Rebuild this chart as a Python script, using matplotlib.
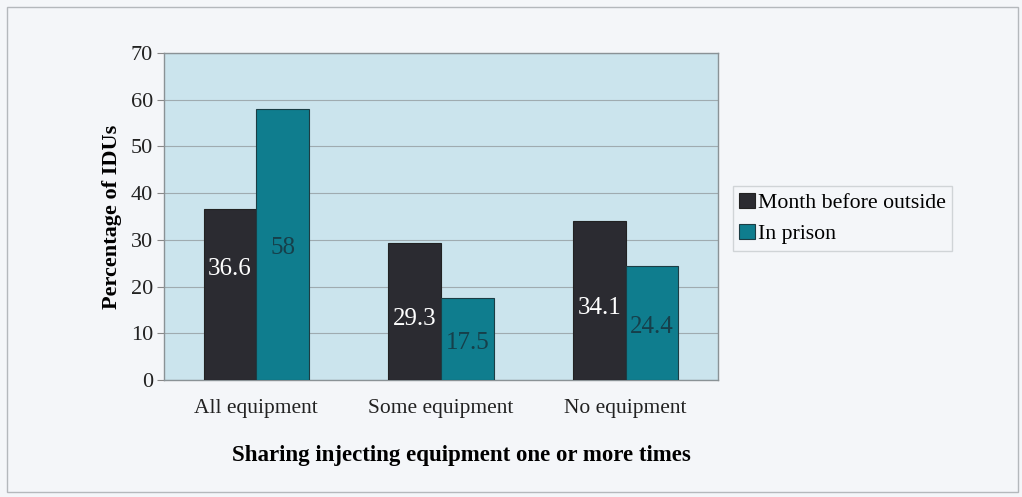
import matplotlib.pyplot as plt
import numpy as np
from matplotlib.patches import Rectangle

# sharing of injecting equipment, % of IDUs
categories = ['All equipment', 'Some equipment', 'No equipment']
series_names = ['Month before outside', 'In prison']
month_before = [36.6, 29.3, 34.1]
in_prison = [58, 17.5, 24.4]
y_ticks = [0, 10, 20, 30, 40, 50, 60, 70]

dark = '#2b2b31'
teal = '#0f7d8e'
plot_bg = '#cbe4ed'
page_bg = '#f4f6f9'
serif = 'Liberation Serif'

plt.rcParams['font.family'] = [serif, 'DejaVu Serif']

fig = plt.figure(figsize=(10.22, 4.97), dpi=100, facecolor=page_bg)
ax = fig.add_axes([0.1605, 0.2354, 0.542, 0.658])
ax.set_facecolor(plot_bg)

# page frame
fig.patches.append(Rectangle((7 / 1022, 5 / 497), 1011 / 1022, 485 / 497,
                             transform=fig.transFigure, fill=False,
                             edgecolor='#b4b8bc', linewidth=1.0))

x = np.arange(len(categories))
w = 0.285
b1 = ax.bar(x - w / 2, month_before, w, color=dark, edgecolor='#222222',
            linewidth=0.8, label=series_names[0], zorder=3)
b2 = ax.bar(x + w / 2, in_prison, w, color=teal, edgecolor='#1c3d44',
            linewidth=0.8, label=series_names[1], zorder=3)

# value labels inside the bars
label_shift = {0: 5.4}
for i, bar in enumerate(b1):
    v = month_before[i]
    ax.text(bar.get_x() + bar.get_width() / 2, v / 2 + label_shift.get(i, -1.6),
            f'{v:g}', ha='center', va='center', color='white', fontsize=18,
            family=serif, zorder=4)
for i, bar in enumerate(b2):
    v = in_prison[i]
    ax.text(bar.get_x() + bar.get_width() / 2, v / 2 - 0.8,
            f'{v:g}', ha='center', va='center', color='#163f4a', fontsize=18,
            family=serif, zorder=4)

ax.set_xlim(-0.5, 2.5)
ax.set_ylim(0, 70)
ax.set_yticks(y_ticks)
ax.yaxis.grid(True, color='#9fabb0', linewidth=0.8, zorder=1)
ax.set_xticks(x)
ax.set_xticklabels(categories, fontsize=15.5, family=serif, color='#222222')
ax.tick_params(axis='x', length=0, pad=14)
ax.tick_params(axis='y', labelsize=16, length=5, color='#888888', pad=3,
               direction='out', labelcolor='#222222')
for lbl in ax.get_yticklabels():
    lbl.set_family(serif)
for s in ax.spines.values():
    s.set_color('#8a9296')
    s.set_linewidth(1.0)

ax.set_ylabel('Percentage of IDUs', fontsize=16, fontweight='bold',
              family=serif, labelpad=6)
ax.set_xlabel('Sharing injecting equipment one or more times', fontsize=16.5,
              fontweight='bold', family=serif, labelpad=18)
ax.xaxis.set_label_coords(0.536, -0.2)

fig.legend(handles=[b1, b2], labels=series_names, loc='upper left',
           bbox_to_anchor=(0.717, 0.625),
           prop={'family': serif, 'size': 15.7}, frameon=True,
           fancybox=False, edgecolor='#c8cccf', facecolor=page_bg,
           handlelength=0.7, handleheight=0.7, handletextpad=0.15,
           borderpad=0.3, labelspacing=0.5, borderaxespad=0)

fig.savefig('out.png', dpi=100, facecolor=page_bg)
